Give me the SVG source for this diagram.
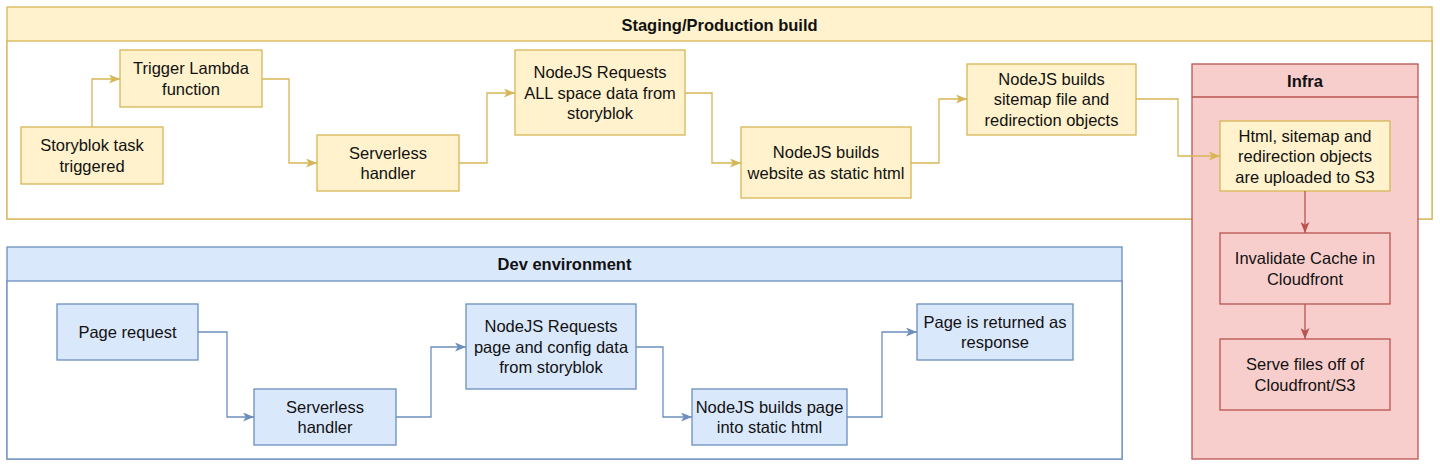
<svg xmlns="http://www.w3.org/2000/svg" width="1440" height="467" viewBox="0 0 1440 467">
<style>
text{font-family:"Liberation Sans",Arial,Helvetica,sans-serif;font-size:16.5px;fill:#111;text-anchor:middle}
.t{font-weight:bold}
.y{fill:#fff2cc;stroke:#d6b656;stroke-width:1.3}
.b{fill:#dae8fc;stroke:#6c8ebf;stroke-width:1.3}
.r{fill:#f8cecc;stroke:#b85450;stroke-width:1.3}
.cy{fill:none;stroke:#d6b656;stroke-width:1.3}
.cb{fill:none;stroke:#6c8ebf;stroke-width:1.3}
.cr{fill:none;stroke:#b85450;stroke-width:1.3}
</style>
<defs>
<marker id="ay" viewBox="0 0 11 9" refX="11" refY="4.5" markerWidth="11" markerHeight="9" markerUnits="userSpaceOnUse" orient="auto"><path d="M0,0 L11,4.5 L0,9 L2.8,4.5 Z" fill="#d6b656"/></marker>
<marker id="ab" viewBox="0 0 11 9" refX="11" refY="4.5" markerWidth="11" markerHeight="9" markerUnits="userSpaceOnUse" orient="auto"><path d="M0,0 L11,4.5 L0,9 L2.8,4.5 Z" fill="#6c8ebf"/></marker>
<marker id="ar" viewBox="0 0 11 9" refX="11" refY="4.5" markerWidth="11" markerHeight="9" markerUnits="userSpaceOnUse" orient="auto"><path d="M0,0 L11,4.5 L0,9 L2.8,4.5 Z" fill="#b85450"/></marker>
</defs>
<rect width="1440" height="467" fill="#ffffff"/>

<g id="staging">
<rect class="y" x="7" y="7" width="1425" height="212"/>
<rect class="y" x="7" y="41" width="1425" height="178" style="fill:#ffffff"/>
<text class="t" x="719.5" y="31">Staging/Production build</text>
</g>

<g id="dev">
<rect class="b" x="7" y="247" width="1115" height="212"/>
<rect class="b" x="7" y="281" width="1115" height="178" style="fill:#ffffff"/>
<text class="t" x="564.5" y="270">Dev environment</text>
</g>

<g id="infra">
<rect class="r" x="1192" y="64" width="226" height="395"/>
<line x1="1192" y1="97" x2="1418" y2="97" stroke="#b85450" stroke-width="1.3"/>
<text class="t" x="1305" y="86.5">Infra</text>
</g>

<g id="storyblok-task">
<rect class="y" x="21" y="127" width="142" height="57"/>
<text x="92" y="151">Storyblok task</text>
<text x="92" y="171.5">triggered</text>
</g>
<g id="trigger-lambda">
<rect class="y" x="120" y="50" width="142" height="57"/>
<text x="191" y="74">Trigger Lambda</text>
<text x="191" y="94.5">function</text>
</g>
<g id="serverless-handler-prod">
<rect class="y" x="317" y="135" width="142" height="56"/>
<text x="388" y="158.5">Serverless</text>
<text x="388" y="179">handler</text>
</g>
<g id="nodejs-requests-all">
<rect class="y" x="515" y="50" width="170" height="85"/>
<text x="600" y="78">NodeJS Requests</text>
<text x="600" y="98.5">ALL space data from</text>
<text x="600" y="119">storyblok</text>
</g>
<g id="nodejs-builds-website">
<rect class="y" x="741" y="127" width="170" height="71"/>
<text x="826" y="158">NodeJS builds</text>
<text x="826" y="178.5">website as static html</text>
</g>
<g id="nodejs-builds-sitemap">
<rect class="y" x="967" y="64" width="169" height="71"/>
<text x="1051.5" y="84.5">NodeJS builds</text>
<text x="1051.5" y="105">sitemap file and</text>
<text x="1051.5" y="125.5">redirection objects</text>
</g>
<g id="upload-s3">
<rect class="y" x="1220" y="121" width="170" height="70"/>
<text x="1305" y="141.5">Html, sitemap and</text>
<text x="1305" y="162">redirection objects</text>
<text x="1305" y="182.5">are uploaded to S3</text>
</g>
<g id="invalidate-cache">
<rect class="r" x="1220" y="233" width="170" height="71"/>
<text x="1305" y="264">Invalidate Cache in</text>
<text x="1305" y="284.5">Cloudfront</text>
</g>
<g id="serve-files">
<rect class="r" x="1220" y="339" width="170" height="71"/>
<text x="1305" y="370">Serve files off of</text>
<text x="1305" y="390.5">Cloudfront/S3</text>
</g>

<g id="page-request">
<rect class="b" x="57" y="304" width="141" height="56"/>
<text x="127.5" y="338">Page request</text>
</g>
<g id="serverless-handler-dev">
<rect class="b" x="254" y="389" width="142" height="56"/>
<text x="325" y="412.5">Serverless</text>
<text x="325" y="433">handler</text>
</g>
<g id="nodejs-requests-page">
<rect class="b" x="466" y="304" width="170" height="85"/>
<text x="551" y="332">NodeJS Requests</text>
<text x="551" y="352.5">page and config data</text>
<text x="551" y="373">from storyblok</text>
</g>
<g id="nodejs-builds-page">
<rect class="b" x="692" y="389" width="155" height="56"/>
<text x="769.5" y="412.5">NodeJS builds page</text>
<text x="769.5" y="433">into static html</text>
</g>
<g id="page-returned">
<rect class="b" x="917" y="304" width="156" height="56"/>
<text x="995" y="327.5">Page is returned as</text>
<text x="995" y="348">response</text>
</g>

<g id="connectors">
<path class="cy" d="M92,127 V79 H120" marker-end="url(#ay)"/>
<path class="cy" d="M262,79 H289 V163 H317" marker-end="url(#ay)"/>
<path class="cy" d="M459,163 H487 V93 H515" marker-end="url(#ay)"/>
<path class="cy" d="M685,93 H712 V163 H741" marker-end="url(#ay)"/>
<path class="cy" d="M911,163 H939 V99 H967" marker-end="url(#ay)"/>
<path class="cy" d="M1136,99 H1178 V156 H1220" marker-end="url(#ay)"/>
<path class="cr" d="M1305,191 V233" marker-end="url(#ar)"/>
<path class="cr" d="M1305,304 V339" marker-end="url(#ar)"/>
<path class="cb" d="M198,332 H227 V417 H254" marker-end="url(#ab)"/>
<path class="cb" d="M396,417 H431 V347 H466" marker-end="url(#ab)"/>
<path class="cb" d="M636,347 H663 V417 H692" marker-end="url(#ab)"/>
<path class="cb" d="M847,417 H882 V332 H917" marker-end="url(#ab)"/>
</g>
</svg>
